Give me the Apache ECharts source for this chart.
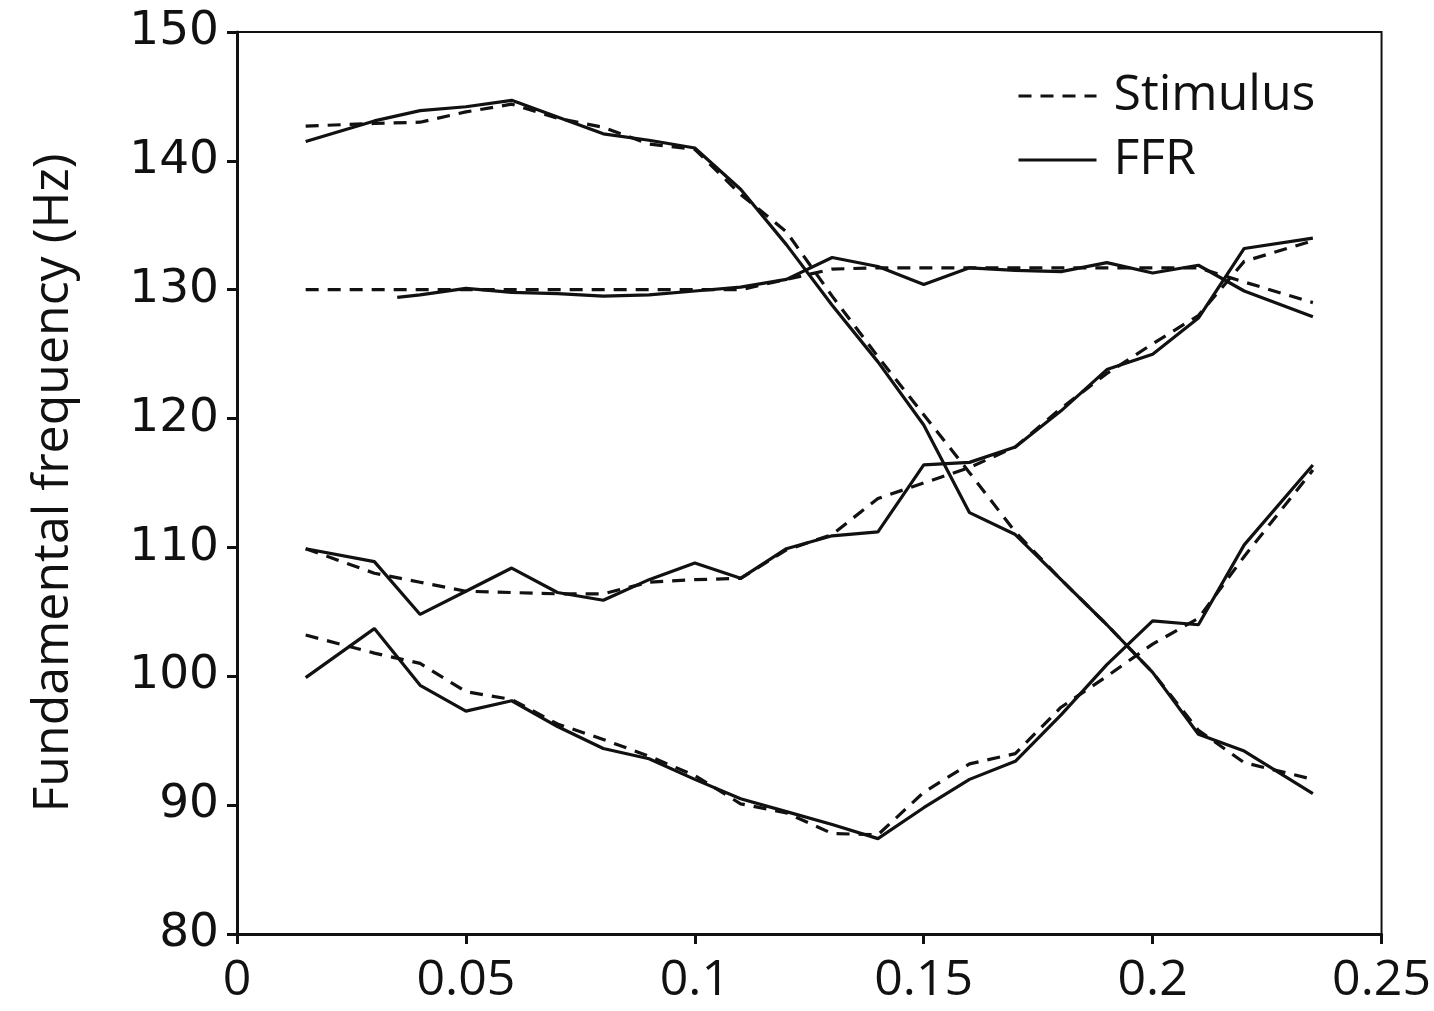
<!DOCTYPE html>
<html>
<head>
<meta charset="utf-8">
<script src="https://cdn.jsdelivr.net/npm/echarts@6/dist/echarts.min.js"></script>
<style>
  html, body { margin: 0; padding: 0; background: #fff; }
  #chart { width: 1434px; height: 1011px; }
</style>
</head>
<body>
<div id="chart"></div>
<script>
// time (s) of each analysis window
const times = [0.015, 0.03, 0.04, 0.05, 0.06, 0.07, 0.08, 0.09, 0.1, 0.11, 0.12,
  0.13, 0.14, 0.15, 0.16, 0.17, 0.18, 0.19, 0.2, 0.21, 0.22, 0.235];
// the second FFR track only starts at 0.035
const timesB = [0.035, 0.04, 0.05, 0.06, 0.07, 0.08, 0.09, 0.1, 0.11, 0.12,
  0.13, 0.14, 0.15, 0.16, 0.17, 0.18, 0.19, 0.2, 0.21, 0.22, 0.235];

// stimulus f0 tracks (Hz)
const stimA = [142.7, 142.9, 143.0, 143.8, 144.4, 143.3, 142.6, 141.3, 140.9, 137.4, 134.5,
  129.5, 124.8, 120.3, 115.8, 111.2, 107.5, 104.0, 100.3, 95.8, 93.3, 92.0];
const stimB = [130.0, 130.0, 130.0, 130.0, 130.0, 130.0, 130.0, 130.0, 130.0, 130.0, 130.8,
  131.6, 131.7, 131.7, 131.7, 131.7, 131.7, 131.7, 131.7, 131.7, 130.6, 129.0];
const stimC = [109.9, 108.0, 107.3, 106.6, 106.5, 106.4, 106.4, 107.3, 107.5, 107.6, 109.8,
  111.0, 113.8, 115.0, 116.2, 117.8, 120.8, 123.5, 125.8, 128.0, 132.2, 133.8];
const stimD = [103.2, 101.8, 101.0, 98.8, 98.2, 96.3, 95.1, 93.8, 92.3, 90.1, 89.4,
  87.8, 87.7, 91.0, 93.2, 94.0, 97.6, 100.0, 102.5, 104.5, 109.3, 116.0];

// FFR f0 tracks (Hz)
const ffrA = [141.5, 143.1, 143.9, 144.2, 144.7, 143.4, 142.1, 141.6, 141.0, 137.8, 133.5,
  128.8, 124.4, 119.5, 112.7, 111.0, 107.5, 104.0, 100.3, 95.5, 94.2, 90.9];
const ffrB = [129.4, 129.6, 130.1, 129.8, 129.7, 129.5, 129.6, 129.9, 130.2, 130.8,
  132.5, 131.8, 130.4, 131.7, 131.5, 131.4, 132.1, 131.3, 131.9, 129.9, 127.9];
const ffrC = [109.9, 108.9, 104.8, 106.6, 108.4, 106.5, 105.9, 107.5, 108.8, 107.6, 109.9,
  110.9, 111.2, 116.4, 116.6, 117.8, 120.6, 123.8, 125.0, 127.8, 133.2, 134.0];
const ffrD = [99.9, 103.7, 99.3, 97.3, 98.1, 96.1, 94.4, 93.6, 92.0, 90.5, 89.5,
  88.5, 87.4, 89.8, 92.0, 93.4, 97.0, 100.9, 104.3, 104.0, 110.2, 116.4];

const pairs = (xs, ys) => xs.map((x, i) => [x, ys[i]]);

const ink = "#111";
const labelFont = "Open Sans";

function track(name, xs, ys, dashed) {
  return {
    name: name,
    type: "line",
    symbol: "none",
    silent: true,
    data: pairs(xs, ys),
    lineStyle: {
      color: ink,
      width: 3.2,
      type: dashed ? [13, 9] : "solid",
    },
    itemStyle: { color: ink },
  };
}

const cfg = {
  animation: false,
  backgroundColor: "#fff",
  grid: {
    left: 237, right: 51, top: 32, bottom: 77,
    show: true, borderColor: ink, borderWidth: 2,
  },
  legend: {
    data: ["Stimulus", "FFR"],
    orient: "vertical",
    left: 1012,
    top: 66,
    itemWidth: 78,
    itemHeight: 14,
    itemGap: 14,
    itemStyle: { opacity: 0 },
    lineStyle: { width: 3 },
    textStyle: {
      fontFamily: labelFont, fontSize: 50, color: ink,
      padding: [0, 0, 0, 12],
    },
  },
  xAxis: {
    type: "value",
    min: 0,
    max: 0.25,
    interval: 0.05,
    splitLine: { show: false },
    axisLine: { lineStyle: { color: ink, width: 3 } },
    axisTick: { length: 10, lineStyle: { color: ink, width: 3 } },
    axisLabel: {
      color: ink, fontFamily: labelFont, fontSize: 50, margin: 22,
    },
  },
  yAxis: {
    type: "value",
    min: 80,
    max: 150,
    interval: 10,
    name: "Fundamental frequency (Hz)",
    nameLocation: "middle",
    nameGap: 158,
    nameTextStyle: { color: ink, fontFamily: labelFont, fontSize: 50 },
    splitLine: { show: false },
    axisLine: { lineStyle: { color: ink, width: 3 } },
    axisTick: { length: 10, lineStyle: { color: ink, width: 3 } },
    axisLabel: {
      color: ink, fontFamily: "DejaVu Sans", fontSize: 47, margin: 18,
    },
  },
  series: [
    track("Stimulus", times, stimA, true),
    track("Stimulus", times, stimB, true),
    track("Stimulus", times, stimC, true),
    track("Stimulus", times, stimD, true),
    track("FFR", times, ffrA, false),
    track("FFR", timesB, ffrB, false),
    track("FFR", times, ffrC, false),
    track("FFR", times, ffrD, false),
  ],
};

const chart = echarts.init(document.getElementById("chart"));
chart.setOption(cfg);
</script>
</body>
</html>
